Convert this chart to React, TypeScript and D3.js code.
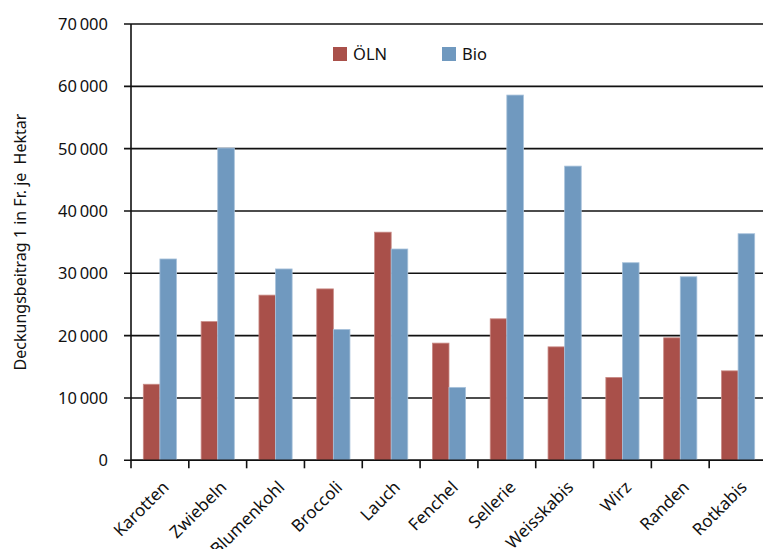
import React from "react";
import * as d3 from "d3";

const categories = ["Karotten", "Zwiebeln", "Blumenkohl", "Broccoli", "Lauch", "Fenchel", "Sellerie", "Weisskabis", "Wirz", "Randen", "Rotkabis"];
const oelnValues = [12200, 22250, 26500, 27500, 36600, 18800, 22700, 18200, 13300, 19650, 14350];
const bioValues = [32300, 50100, 30700, 21000, 33900, 11700, 58600, 47200, 31700, 29450, 36350];
const seriesNames = ["ÖLN", "Bio"];
const yTicks = [0, 10000, 20000, 30000, 40000, 50000, 60000, 70000];
const yTitle = "Deckungsbeitrag 1 in Fr. je  Hektar";

const W = 763;
const H = 549;
const left = 131;
const right = 767;
const top = 24;
const bottom = 460.3;
const colors = ["#A9504A", "#7099BF"];
const strokeColors = ["#C98A85", "#A8C2DB"];
const font = "'Noto Sans', sans-serif";

function fmt(v: number) {
  const s = String(v);
  if (s.length <= 3) return s;
  return s.slice(0, s.length - 3) + "\u2009" + s.slice(s.length - 3);
}

export default function App() {
  const x = d3.scaleBand<string>().domain(categories).range([left, right]).paddingInner(0).paddingOuter(0);
  const y = d3.scaleLinear().domain([0, 70000]).range([bottom, top]);
  const bw = x.bandwidth();
  const barW = bw * 0.287;
  const inner = d3.scaleBand<string>().domain(seriesNames).range([bw / 2 - barW, bw / 2 + barW]);
  const data = [oelnValues, bioValues];

  return (
    <svg width={W} height={H} style={{ position: "absolute", left: 0, top: 0, background: "#fff" }}>
      {yTicks.map((t) => (
        <g key={t}>
          <line x1={left - 7} x2={right} y1={y(t)} y2={y(t)} stroke="#111" strokeWidth={1.6} />
          <text x={108} y={y(t)} dy="0.36em" textAnchor="end" fontFamily={font} fontSize={16.5} fill="#111">
            {fmt(t)}
          </text>
        </g>
      ))}
      {data.map((vals, si) =>
        categories.map((c, i) => (
          <rect
            key={c + si}
            x={(x(c) as number) + (inner(seriesNames[si]) as number)}
            y={y(vals[i])}
            width={inner.bandwidth()}
            height={y(0) - y(vals[i])}
            fill={colors[si]}
            stroke={strokeColors[si]}
            strokeWidth={0.8}
          />
        ))
      )}
      <line x1={left} x2={left} y1={top} y2={bottom} stroke="#111" strokeWidth={1.6} />
      <line x1={left} x2={right} y1={bottom} y2={bottom} stroke="#111" strokeWidth={1.6} />
      {categories.map((c) => (
        <line key={c} x1={x(c) as number} x2={x(c) as number} y1={bottom} y2={bottom + 8} stroke="#111" strokeWidth={1.6} />
      ))}
      {categories.map((c) => {
        const cx = (x(c) as number) + bw / 2 + 10;
        const cy = bottom + 28;
        return (
          <text key={c} transform={`translate(${cx},${cy}) rotate(-45)`} textAnchor="end" fontFamily={font} fontSize={17} fill="#111">
            {c}
          </text>
        );
      })}
      <text transform={`translate(26,242) rotate(-90)`} textAnchor="middle" fontFamily={font} fontSize={16} fill="#111" style={{ whiteSpace: "pre" }}>
        {yTitle}
      </text>
      {seriesNames.map((n, i) => (
        <g key={n} transform={`translate(${333 + i * 109},47)`}>
          <rect width={14} height={14} fill={colors[i]} />
          <text x={20} y={7} dy="0.36em" fontFamily={font} fontSize={16.5} fill="#111">
            {n}
          </text>
        </g>
      ))}
    </svg>
  );
}
